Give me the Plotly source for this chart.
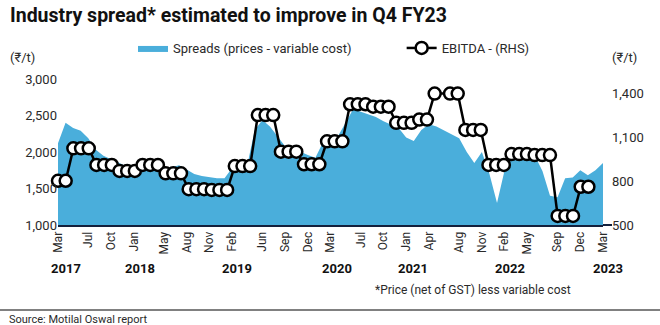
import plotly.graph_objects as go

# ---------------- data ----------------
# Monthly spreads (Rs/t), Mar 2017 .. Mar 2023 (month index 0..72)
spread = [2120, 2400, 2330, 2290, 2190, 2030, 1950, 1900, 1860, 1800, 1760, 1740,
          1780, 1800, 1760, 1790, 1820, 1760, 1700, 1670, 1650, 1640, 1640, 1780,
          1800, 1820, 2300, 2440, 2350, 2220, 2080, 2050, 2000, 1960, 1920, 2130,
          2230, 2220, 2400, 2590, 2550, 2520, 2480, 2420, 2370, 2330, 2200, 2150,
          2300, 2380, 2350, 2300, 2250, 2190, 2000, 1850, 2000, 1700, 1300, 1750,
          1950, 2000, 2000, 1950, 1740, 1400, 1380, 1640, 1650, 1750, 1680, 1750,
          1850]
spread_month = list(range(len(spread)))

# EBITDA (Rs/t, RHS) plotted as monthly markers (quarterly value repeated)
ebitda = [803, 803, 1025, 1025, 1025, 911, 911, 911, 870, 870, 870, 911, 911, 911,
          854, 854, 854, 745, 745, 745, 740, 740, 740, 904, 904, 904, 1253, 1253, 1253,
          1002, 1002, 1002, 916, 916, 916, 1073, 1073, 1073, 1327, 1327, 1327,
          1310, 1310, 1310, 1200, 1200, 1200, 1222, 1222, 1400, None, 1400, 1400,
          1151, 1151, 1151, 911, 911, 911, 986, 986, 986, 979, 979, 979,
          562, 562, 562, 762, 762]
ebitda_pos = list(range(len(ebitda)))

tick_idx = [0, 4, 7, 10, 14, 17, 20, 23, 27, 30, 33, 36, 40, 43, 46, 49, 53, 56, 59, 62, 66, 69, 72]
tick_text = ["Mar", "Jul", "Oct", "Jan", "May", "Aug", "Nov", "Feb", "Jun", "Sep", "Dec",
             "Mar", "Jul", "Oct", "Jan", "Apr", "Aug", "Nov", "Feb", "May", "Sep", "Dec", "Mar"]

years = ["2017", "2018", "2019", "2020", "2021", "2022", "2023"]
year_pos = [1.0, 10.8, 23.6, 36.9, 46.9, 59.7, 72.7]

left_ticks = [1000, 1500, 2000, 2500, 3000]
right_ticks = [500, 800, 1100, 1400]

# ---------------- figure ----------------
W, H = 660, 325
L, R, T, B = 58, 57, 79, 100
PW, PH = W - L - R, H - T - B

def px_x(px):
    return (px - L) / PW

def px_y(py):
    return (H - B - py) / PH

FONT = "Roboto, 'Open Sans', sans-serif"
TXT = "#2a2a2a"
BLUE = "#4aaedb"
PAD = "\u00a0" * 14

fig = go.Figure()
fig.add_trace(go.Scatter(
    x=spread_month, y=spread, mode="lines", fill="tozeroy",
    fillcolor=BLUE, line=dict(color=BLUE, width=0),
    name="Spreads (prices - variable cost)" + PAD, hoverinfo="skip"))
fig.add_trace(go.Scatter(
    x=ebitda_pos, y=ebitda, mode="lines+markers", connectgaps=True,
    xaxis="x2", yaxis="y2", cliponaxis=False,
    line=dict(color="#000000", width=2.5),
    marker=dict(size=12, color="white", line=dict(color="#000000", width=2.5)),
    name="EBITDA - (RHS)"))

fig.update_layout(
    width=W, height=H, margin=dict(l=L, r=R, t=T, b=B),
    paper_bgcolor="white", plot_bgcolor="white",
    font=dict(family=FONT, color=TXT, size=13),
    showlegend=True,
    legend=dict(orientation="h", x=px_x(133), y=px_y(48), xanchor="left", yanchor="middle",
                font=dict(size=13, color=TXT), itemwidth=30,
                bgcolor="rgba(0,0,0,0)", traceorder="normal"),
    xaxis=dict(range=[0, 72], tickvals=tick_idx, ticktext=tick_text, tickangle=-90,
               showgrid=False, zeroline=False, showline=True, linecolor="#14213d",
               linewidth=2, ticks="", tickfont=dict(size=12, color=TXT)),
    xaxis2=dict(overlaying="x", range=[0, 70.9], visible=False),
    yaxis=dict(range=[1000, 3000], tickvals=left_ticks, tickformat=",", showgrid=False,
               zeroline=False, showline=False, ticks="", tickfont=dict(size=13, color=TXT)),
    yaxis2=dict(overlaying="y", side="right", range=[500, 1500], tickvals=right_ticks,
                tickformat=",", showgrid=False, zeroline=False, showline=False, ticks="",
                ticklabelstandoff=8, tickfont=dict(size=13, color=TXT)),
)

annotations = [
    dict(text="<b>Industry spread* estimated to improve in Q4 FY23</b>", x=px_x(8), y=px_y(15),
         xanchor="left", yanchor="middle", font=dict(size=19.5, color="#111111")),
    dict(text="(₹/t)", x=px_x(8), y=px_y(57), xanchor="left", yanchor="middle",
         font=dict(size=13, color=TXT)),
    dict(text="(₹/t)", x=px_x(610), y=px_y(57), xanchor="left", yanchor="middle",
         font=dict(size=13, color=TXT)),
    dict(text="*Price (net of GST) less variable cost", x=px_x(473), y=px_y(290),
         xanchor="center", yanchor="middle", font=dict(size=12, color=TXT)),
    dict(text="Source: Motilal Oswal report", x=px_x(7), y=px_y(319),
         xanchor="left", yanchor="middle", font=dict(size=11, color=TXT)),
]
for yr, pos in zip(years, year_pos):
    annotations.append(dict(text="<b>" + yr + "</b>", x=pos / 72, y=px_y(268),
                            xanchor="center", yanchor="middle",
                            font=dict(size=13, color="#111111")))
for a in annotations:
    a.update(xref="paper", yref="paper", showarrow=False)
fig.update_layout(annotations=annotations)

fig.update_layout(shapes=[
    dict(type="line", xref="paper", yref="paper", x0=1.0, x1=px_x(612), y0=0, y1=0,
         line=dict(color="#14213d", width=2)),
    dict(type="line", xref="paper", yref="paper", x0=px_x(0), x1=px_x(660),
         y0=px_y(310), y1=px_y(310), line=dict(color="#808080", width=2)),
])

fig.write_html("out.html")
